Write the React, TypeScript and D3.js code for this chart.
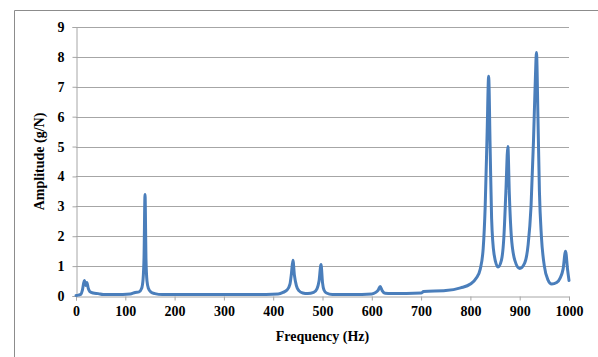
import { useEffect, useRef } from "react";
import * as d3 from "d3";

const freqs = [
  0, 5, 10, 13, 17, 20, 22, 25, 28, 35, 45, 55, 80, 110, 120, 128, 133, 136, 138, 140, 142, 144,
  147, 152, 160, 175, 250, 350, 410, 420, 428, 434, 437, 440, 443, 447, 452, 460, 470, 482, 489,
  493, 497, 500, 503, 508, 520, 560, 600, 608, 613, 617, 621, 627, 640, 700, 705, 750, 780, 800,
  812, 820, 826, 830, 834, 837, 840, 843, 848, 856, 863, 868, 872, 876, 879, 883, 890, 900, 910,
  917, 923, 928, 932, 934, 937, 940, 944, 950, 957, 965, 975, 982, 988, 993, 997, 1000,
];
const amps = [
  0.02, 0.03, 0.06, 0.2, 0.52, 0.35, 0.45, 0.25, 0.15, 0.1, 0.08, 0.05, 0.05, 0.07, 0.12, 0.14,
  0.25, 0.55, 1.3, 3.4, 1.2, 0.5, 0.25, 0.13, 0.08, 0.05, 0.05, 0.05, 0.07, 0.12, 0.2, 0.4, 0.75,
  1.2, 0.7, 0.35, 0.18, 0.1, 0.08, 0.12, 0.25, 0.5, 1.05, 0.45, 0.2, 0.1, 0.05, 0.05, 0.07, 0.12,
  0.2, 0.32, 0.18, 0.09, 0.08, 0.1, 0.15, 0.18, 0.27, 0.4, 0.6, 0.9, 1.6, 3.0, 5.5, 7.35, 5.0,
  2.6, 1.4, 0.97, 1.2, 2.0, 3.5, 5.0, 3.4, 2.0, 1.2, 0.92, 1.1, 1.7, 3.0, 5.2, 7.4, 8.15, 6.0,
  3.5, 2.0, 1.0, 0.55, 0.4, 0.45, 0.6, 0.9, 1.5, 0.9, 0.52,
];
const xTicks = [0, 100, 200, 300, 400, 500, 600, 700, 800, 900, 1000];
const yTicks = [0, 1, 2, 3, 4, 5, 6, 7, 8, 9];

const W = 598;
const H = 357;
const margin = { top: 27, right: 29, bottom: 61, left: 76 };
const font = "Liberation Serif, DejaVu Serif, serif";

const App = () => {
  const svgRef = useRef<SVGSVGElement>(null);

  useEffect(() => {
    const svg = d3.select(svgRef.current);
    svg.selectAll("*").remove();

    const grey = "#a6a6a6";

    const x = d3.scaleLinear().domain([0, 1000]).range([margin.left, W - margin.right]);
    const y = d3.scaleLinear().domain([0, 9]).range([H - margin.bottom, margin.top]);

    // outer chart frame (cut off at right and bottom)
    svg.append("path")
      .attr("d", `M14.5,${H + 2}V10.5H${W + 2}`)
      .attr("fill", "none")
      .attr("stroke", "#8c8c8c");

    // gridlines
    svg.append("g")
      .selectAll("line")
      .data(yTicks.filter(d => d > 0))
      .enter()
      .append("line")
      .attr("x1", margin.left)
      .attr("x2", W - margin.right)
      .attr("y1", d => Math.round(y(d)) + 0.5)
      .attr("y2", d => Math.round(y(d)) + 0.5)
      .attr("stroke", grey)
      .attr("stroke-width", 1.2);

    const yAxis = svg.append("g")
      .attr("transform", `translate(${margin.left + 0.5},0)`)
      .call(d3.axisLeft(y).tickValues(yTicks).tickSize(4).tickPadding(8).tickFormat(d3.format("d")));
    yAxis.select(".domain").attr("stroke", grey);
    yAxis.selectAll(".tick line").attr("stroke", grey);

    const xAxis = svg.append("g")
      .attr("transform", `translate(0,${Math.round(y(0)) + 0.5})`)
      .call(d3.axisBottom(x).tickValues(xTicks).tickSize(4).tickPadding(6).tickFormat(d3.format("d")));
    xAxis.select(".domain").attr("stroke", grey);
    xAxis.selectAll(".tick line").attr("stroke", grey);

    yAxis.attr("font-family", font).attr("font-size", 14).attr("font-weight", "bold");
    xAxis.attr("font-family", font).attr("font-size", 14).attr("font-weight", "bold");
    svg.selectAll(".tick text").attr("fill", "#000");

    const pts = freqs.map((f, i) => [f, amps[i]] as [number, number]);
    const line = d3.line<[number, number]>()
      .x(d => x(d[0]))
      .y(d => y(d[1]))
      .curve(d3.curveMonotoneX);

    svg.append("path")
      .datum(pts)
      .attr("d", line)
      .attr("fill", "none")
      .attr("stroke", "#4a7ebb")
      .attr("stroke-width", 3)
      .attr("stroke-linejoin", "round")
      .attr("stroke-linecap", "round");

    svg.append("text")
      .attr("x", (margin.left + W - margin.right) / 2)
      .attr("y", 341)
      .attr("text-anchor", "middle")
      .attr("font-family", font)
      .attr("font-size", 14)
      .attr("font-weight", "bold")
      .text("Frequency (Hz)");

    svg.append("text")
      .attr("transform", `translate(44,${(margin.top + H - margin.bottom) / 2}) rotate(-90)`)
      .attr("text-anchor", "middle")
      .attr("font-family", font)
      .attr("font-size", 14)
      .attr("font-weight", "bold")
      .text("Amplitude (g/N)");
  }, []);

  return (
    <svg
      ref={svgRef}
      width={W}
      height={H}
      style={{ position: "absolute", left: 0, top: 0, background: "#fff" }}
    />
  );
};

export default App;
